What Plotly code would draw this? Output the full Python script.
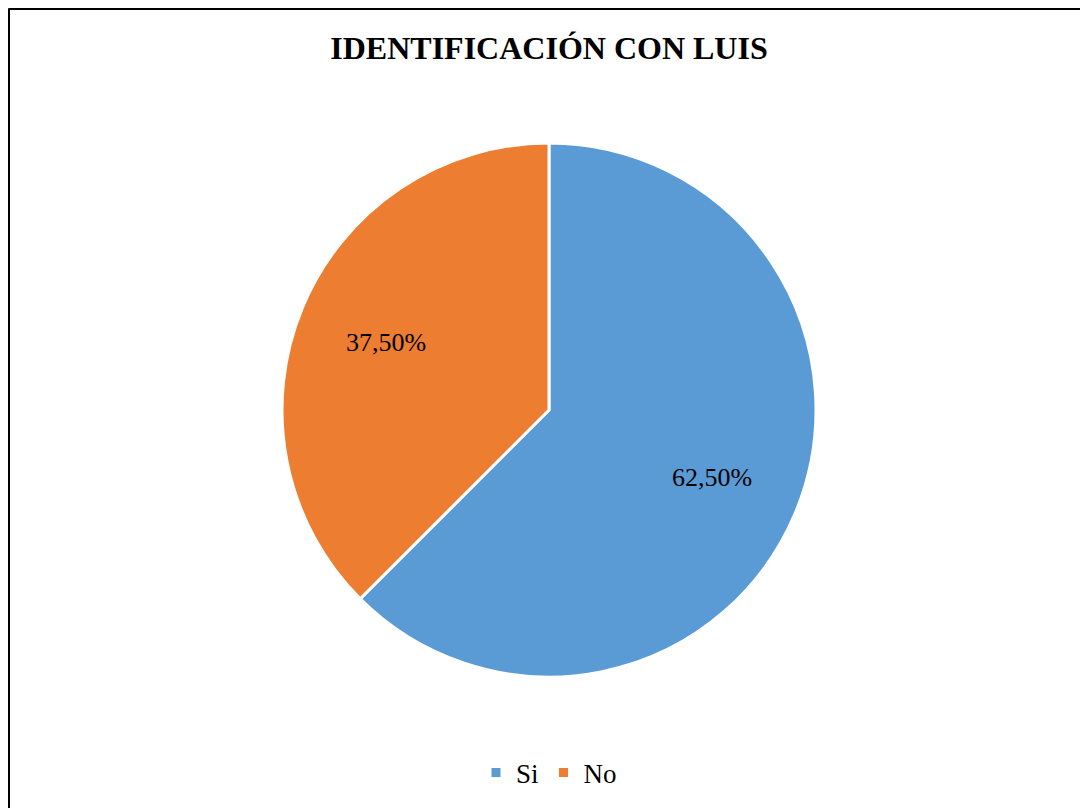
import math
import plotly.graph_objects as go

categories = ["Si", "No"]
values = [62.5, 37.5]
value_text = ["62,50%", "37,50%"]
colors = ["#5B9BD5", "#ED7D31"]
title_text = "IDENTIFICACIÓN CON LUIS"

# page body has an 8px margin; figure coordinates are relative to it
W, H = 1080, 800
cx, cy, r = 541, 402, 267
label_radius = 0.66

fig = go.Figure(go.Pie(
    labels=categories,
    values=values,
    textinfo="none",
    marker=dict(colors=colors, line=dict(color="white", width=3)),
    sort=False,
    direction="clockwise",
    rotation=0,
    hoverinfo="label+percent",
    domain=dict(x=[(cx - r) / W, (cx + r) / W], y=[1 - (cy + r) / H, 1 - (cy - r) / H]),
))

# data labels at the middle angle of each slice
total = sum(values)
annotations = []
cum = 0.0
for v, t in zip(values, value_text):
    mid = (cum + v / 2) / total * 2 * math.pi
    cum += v
    px = cx + label_radius * r * math.sin(mid)
    py = cy - label_radius * r * math.cos(mid)
    annotations.append(dict(x=px / W, y=1 - py / H, xref="paper", yref="paper",
                            text=t, showarrow=False, xanchor="center", yanchor="middle",
                            font=dict(family="Liberation Serif", size=26, color="black")))

fig.update_layout(
    width=W, height=H,
    margin=dict(l=0, r=0, t=0, b=0),
    paper_bgcolor="white",
    plot_bgcolor="white",
    title=dict(text="<b>" + title_text + "</b>", x=541 / W, xanchor="center",
               y=1 - 40 / H, yanchor="middle",
               font=dict(family="Liberation Serif", size=32, color="black")),
    legend=dict(orientation="h", x=541 / W, xanchor="center", y=1 - 765 / H, yanchor="middle",
                font=dict(family="Liberation Serif", size=27, color="black"),
                itemwidth=30, traceorder="normal"),
    showlegend=True,
    annotations=annotations,
    shapes=[
        dict(type="line", xref="paper", yref="paper", x0=0.5 / W, x1=1.0, y0=1 - 1 / H, y1=1 - 1 / H,
             line=dict(color="black", width=2)),
        dict(type="line", xref="paper", yref="paper", x0=1 / W, x1=1 / W, y0=0, y1=1 - 0.5 / H,
             line=dict(color="black", width=2)),
    ],
)

fig.write_html("out.html")
